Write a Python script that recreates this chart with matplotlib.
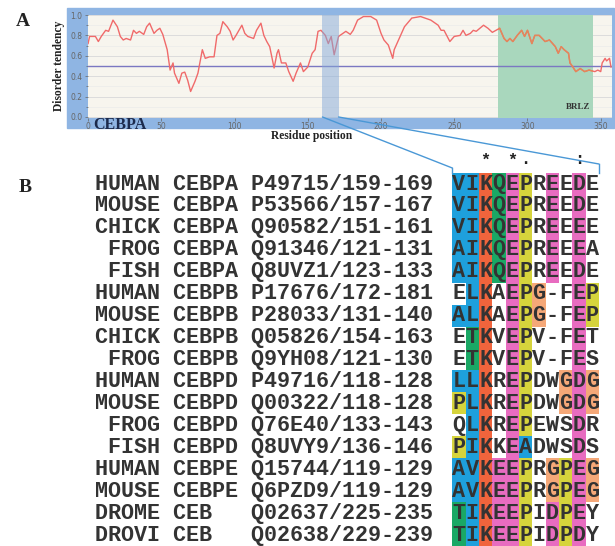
import matplotlib
matplotlib.use('Agg')
import matplotlib.pyplot as plt
from matplotlib.patches import Rectangle, ConnectionPatch

# ---- panel A data ----
residue = [0, 1, 5, 7, 9, 12, 14, 17, 20, 22, 24, 26, 29, 31, 33, 35, 38, 40, 42, 45,
           47, 49, 51, 54, 56, 58, 59, 62, 64, 66, 68, 70, 73, 75, 78, 80, 83, 86, 88, 90,
           92, 95, 97, 99, 101, 105, 107, 109, 113, 115, 118, 120, 122, 124, 127, 129, 130, 132, 135, 137,
           140, 142, 145, 147, 150, 153, 155, 157, 159, 162, 164, 166, 168, 171, 176, 179, 181, 184, 188, 193,
           197, 200, 202, 205, 208, 209, 213, 216, 221, 227, 234, 239, 241, 243, 247, 250, 254, 256, 258, 261,
           263, 265, 270, 273, 276, 281, 284, 286, 288, 290, 293, 296, 298, 300, 303, 305, 308, 312, 315, 319,
           321, 323, 325, 328, 329, 331, 333, 336, 339, 342, 346, 348, 350, 351, 353, 354, 356, 357]
disorder = [0.72, 0.79, 0.79, 0.74, 0.79, 0.85, 0.84, 0.95, 0.885, 0.79, 0.755, 0.77, 0.755, 0.85, 0.82, 0.84, 0.81, 0.885, 0.92, 0.82,
            0.85, 0.87, 0.81, 0.66, 0.46, 0.53, 0.43, 0.33, 0.43, 0.44, 0.36, 0.25, 0.35, 0.43, 0.66, 0.575, 0.59, 0.59, 0.80, 0.82,
            0.935, 0.885, 0.84, 0.755, 0.80, 0.90, 0.82, 0.79, 0.77, 0.85, 0.92, 0.80, 0.74, 0.69, 0.48, 0.625, 0.66, 0.53, 0.53, 0.445,
            0.35, 0.43, 0.53, 0.445, 0.49, 0.625, 0.66, 0.84, 0.85, 0.80, 0.72, 0.79, 0.61, 0.79, 0.84, 0.81, 0.85, 0.95, 0.985, 0.985,
            0.95, 0.82, 0.755, 0.705, 0.575, 0.66, 0.79, 0.885, 0.97, 0.985, 0.95, 0.90, 0.85, 0.85, 0.74, 0.79, 0.80, 0.85, 0.80, 0.82,
            0.85, 0.84, 0.90, 0.87, 0.83, 0.87, 0.77, 0.74, 0.77, 0.74, 0.80, 0.85, 0.79, 0.85, 0.72, 0.80, 0.80, 0.74, 0.755, 0.69,
            0.625, 0.69, 0.66, 0.625, 0.53, 0.49, 0.445, 0.475, 0.445, 0.46, 0.445, 0.46, 0.445, 0.53, 0.575, 0.55, 0.575, 0.49]
threshold = 0.5
brlz = (280, 345)
window = (160, 171)

# ---- panel B data ----
species = ['HUMAN', 'MOUSE', 'CHICK', 'FROG', 'FISH', 'HUMAN', 'MOUSE', 'CHICK', 'FROG',
           'HUMAN', 'MOUSE', 'FROG', 'FISH', 'HUMAN', 'MOUSE', 'DROME', 'DROVI']
genes = ['CEBPA'] * 5 + ['CEBPB'] * 4 + ['CEBPD'] * 4 + ['CEBPE'] * 2 + ['CEB'] * 2
accessions = ['P49715/159-169', 'P53566/157-167', 'Q90582/151-161', 'Q91346/121-131', 'Q8UVZ1/123-133',
              'P17676/172-181', 'P28033/131-140', 'Q05826/154-163', 'Q9YH08/121-130',
              'P49716/118-128', 'Q00322/118-128', 'Q76E40/133-143', 'Q8UVY9/136-146',
              'Q15744/119-129', 'Q6PZD9/119-129', 'Q02637/225-235', 'Q02638/229-239']
sequences = ['VIKQEPREEDE', 'VIKQEPREEDE', 'VIKQEPREEEE', 'AIKQEPREEEA', 'AIKQEPREEDE',
             'ELKAEPG-FEP', 'ALKAEPG-FEP', 'ETKVEPV-FET', 'ETKVEPV-FES',
             'LLKREPDWGDG', 'PLKREPDWGDG', 'QLKREPEWSDR', 'PIKKEADWSDS',
             'AVKEEPRGPEG', 'AVKEEPRGPEG', 'TIKEEPIDPEY', 'TIKEEPIDPDY']
shading = ['bbrgmy.m.m.', 'bbrgmy.m.m.', 'bbrgmy.m.m.', 'bbrgmy.m.m.', 'bbrgmy.m.m.',
           '.br.myo..my', 'bbr.myo..my', '.gr.my...m.', '.gr.my...m.',
           'bbr.my..omo', 'ybr.my..omo', '.br.my...m.', 'ybr.mb...m.',
           'bbrmmy.oymo', 'bbrmmy.oymo', 'gbrmmy.mym.', 'gbrmmy.mym.']
consensus = '  * *.   : '

shade_colors = {'b': '#1ea0dc', 'r': '#f0643c', 'g': '#1aa865', 'm': '#e86cc0',
                'y': '#d6d43c', 'o': '#f5a878'}

W, H = 615, 546
fig = plt.figure(figsize=(W / 100, H / 100), dpi=100)

def fx(x):
    return x / W

def fy(y):
    return 1 - y / H

serif = 'Liberation Serif'
mono = 'Liberation Mono'

# blue frame behind panel A
fig.patches.append(Rectangle((fx(67), fy(128)), fx(614) - fx(67), fy(8) - fy(128),
                             transform=fig.transFigure, color='#8fb5e3', zorder=-5))

axA = fig.add_axes([fx(87.5), fy(117.5), fx(612) - fx(87.5), fy(14.5) - fy(117.5)], zorder=1)
axA.set_facecolor('#f7f5ee')
axA.set_xlim(-0.4, 357.7)
axA.set_ylim(-0.005, 1.005)
for s in axA.spines.values():
    s.set_visible(False)
axA.set_yticks([0, 0.2, 0.4, 0.6, 0.8, 1.0])
axA.set_yticks([0.1, 0.3, 0.5, 0.7, 0.9], minor=True)
axA.set_yticklabels(['0.0', '0.2', '0.4', '0.6', '0.8', '1.0'])
axA.set_xticks(range(0, 351, 50))
axA.tick_params(axis='both', labelsize=5.5, colors='#666666', length=2, width=0.5, pad=1.5)
axA.tick_params(axis='y', which='minor', length=1.5, width=0.5, colors='#666666')
axA.grid(axis='y', which='major', color='#dcdcdc', lw=0.7)
axA.grid(axis='y', which='minor', color='#ebebeb', lw=0.5)
axA.set_axisbelow(True)

axA.axvspan(brlz[0], brlz[1], color='#a9d7bd', lw=0, zorder=1)
axA.axhline(threshold, color='#7b78c2', lw=1.0, zorder=2)
axA.plot(residue, disorder, color='#f06a6a', lw=1.0, zorder=3)
seg = axA.plot(residue, disorder, color='#e2895a', lw=1.0, zorder=4)[0]
clip = Rectangle((brlz[0], 0), brlz[1] - brlz[0], 1.005, transform=axA.transData)
seg.set_clip_path(clip)
axA.axvspan(window[0], window[1], color='#84a9d9', alpha=0.5, lw=0, zorder=5)
axA.text(brlz[1] - 2, 0.1, 'BRLZ', ha='right', va='center', fontsize=6.5,
         fontweight='bold', family=serif, color='#333333', zorder=6)

# overlay axes in pixel units for labels and panel B
axB = fig.add_axes([0, 0, 1, 1], facecolor='none', zorder=2)
axB.set_xlim(0, W)
axB.set_ylim(H, 0)
axB.axis('off')

axB.text(23, 21, 'A', ha='center', va='center', fontsize=14, fontweight='bold', family=serif, color='#222222')
axB.text(25, 187, 'B', ha='center', va='center', fontsize=14, fontweight='bold', family=serif, color='#222222')
axB.text(59, 66, 'Disorder tendency', rotation=90, ha='center', va='center', fontsize=8.3,
         fontweight='bold', family=serif, color='#222222')
axB.text(312, 136, 'Residue position', ha='center', va='center', fontsize=8.3,
         fontweight='bold', family=serif, color='#222222')
axB.text(93, 125, 'CEBPA', ha='left', va='center', fontsize=11.5,
         fontweight='bold', family=serif, color='#1c2a4c')

# connector lines from the highlighted window to the alignment
x0, cw = 452.3, 13.33
y0, rh = 184, 21.94
left_x, right_x = x0, x0 + cw * 11
for xa, xb, yb in [(window[0], left_x, 168), (window[1], right_x, 164)]:
    con = ConnectionPatch(xyA=(xa, 0), coordsA=axA.transData, xyB=(xb, yb), coordsB=axB.transData,
                          color='#4a98d6', lw=1.0, zorder=7)
    fig.add_artist(con)
    axB.plot([xb, xb], [yb, y0 - rh / 2], color='#4a98d6', lw=1.0)

# alignment
for i in range(len(species)):
    yc = y0 + i * rh
    label = f'{species[i]:>5} {genes[i]:<5} {accessions[i]}'
    axB.text(95, yc, label, ha='left', va='center', fontsize=15.7, fontweight='bold',
             family=mono, color='#333333')
    for j, (aa, c) in enumerate(zip(sequences[i], shading[i])):
        xc = x0 + j * cw
        if c in shade_colors:
            axB.add_patch(Rectangle((xc, yc - rh / 2), cw, rh, color=shade_colors[c], lw=0))
        axB.text(xc + cw / 2, yc, aa, ha='center', va='center', fontsize=15.7, fontweight='bold',
                 family=mono, color='#333333')

for j, sym in enumerate(consensus):
    if sym.strip():
        axB.text(x0 + j * cw + cw / 2, 160, sym, ha='center', va='center', fontsize=12,
                 fontweight='bold', family=mono, color='#222222')

fig.savefig('out.png', dpi=100)
